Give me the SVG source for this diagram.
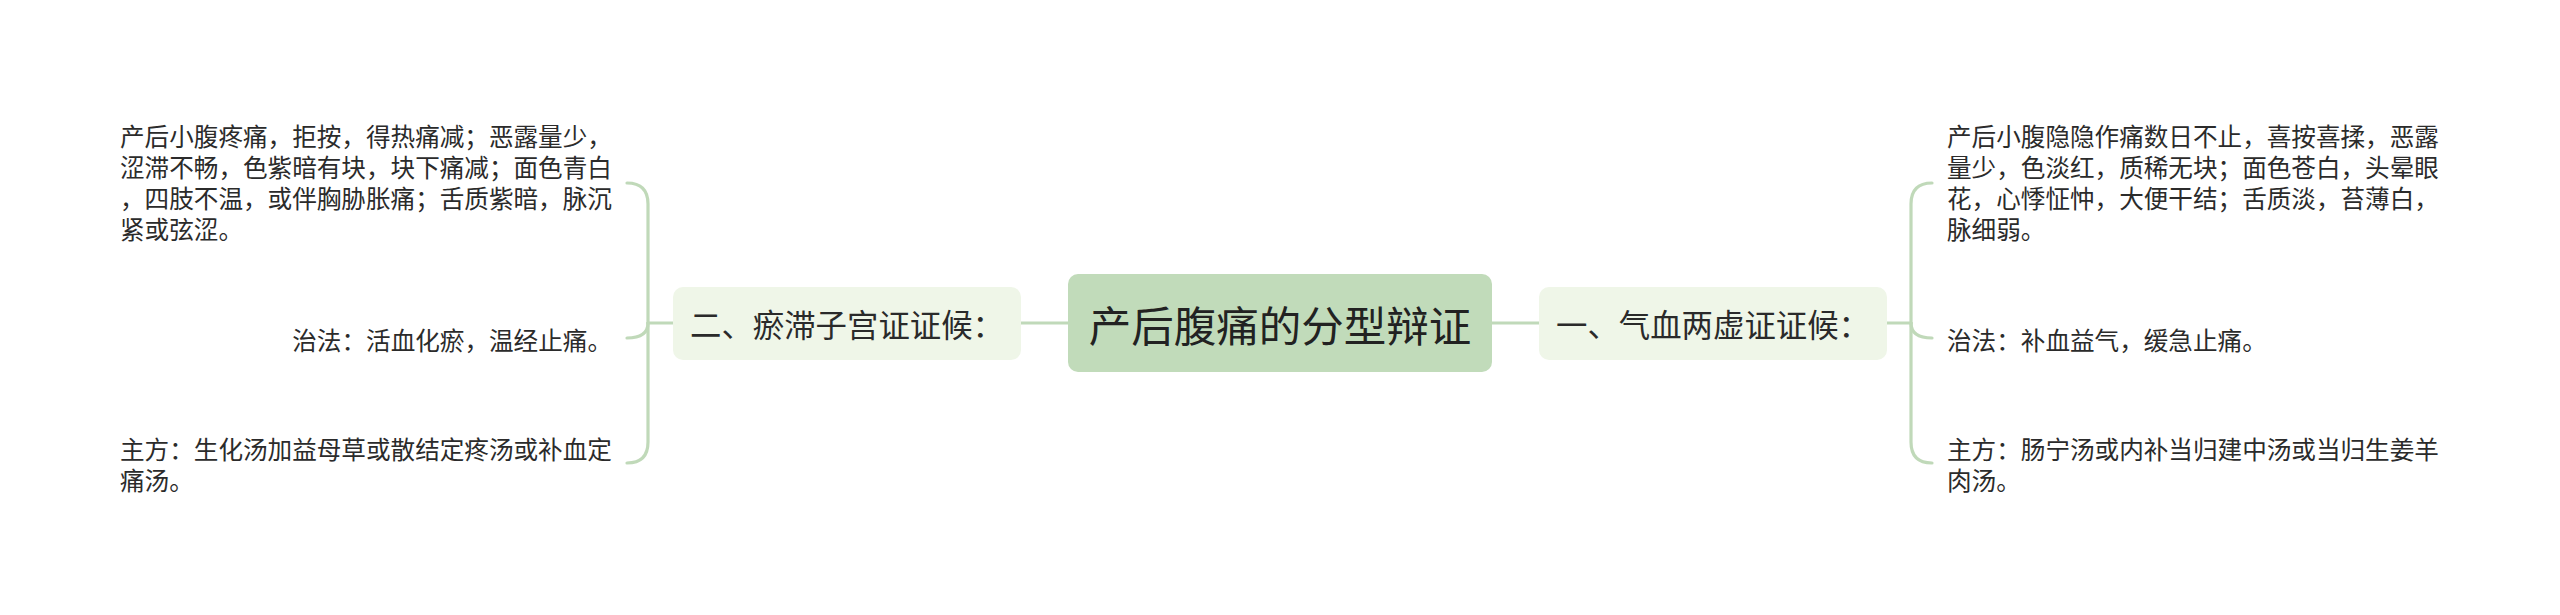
<svg xmlns="http://www.w3.org/2000/svg" width="2560" height="615" viewBox="0 0 2560 615">
<style>
  text { font-family: "Noto Sans CJK SC", "Noto Sans", sans-serif; dominant-baseline: central; }
  .root { fill: #c1dbba; }
  .main { fill: #eff6e8; }
  .rootT { font-size: 42.5px; fill: #222222; text-anchor: middle; }
  .mainT { font-size: 31.4px; fill: #2a2a2a; text-anchor: middle; }
  .leaf { font-size: 24.6px; fill: #2b2b2b; }
  .end { text-anchor: end; }
  .conn path { fill: none; stroke: #c0d9b9; stroke-width: 3.2; stroke-linecap: round; }
</style>
<rect width="2560" height="615" fill="#ffffff"/>
<g class="conn" id="connectors">
  <path d="M1021,323 L1068,323"/>
  <path d="M1492,323 L1539,323"/>
  <path d="M673,323 L648,323"/>
  <path d="M648,323 L648,204 Q648,183 627,183"/>
  <path d="M648,323 C648,333 641,338 627,338"/>
  <path d="M648,323 L648,442 Q648,463 627,463"/>
  <path d="M1887,323 L1911,323"/>
  <path d="M1911,323 L1911,204 Q1911,183 1932,183"/>
  <path d="M1911,323 C1911,333 1918,338 1932,338"/>
  <path d="M1911,323 L1911,442 Q1911,463 1932,463"/>
</g>
<g id="root">
  <rect class="root" x="1068" y="274" width="424" height="98" rx="10"/>
  <text class="rootT" x="1280" y="323">产后腹痛的分型辩证</text>
</g>
<g id="branch-left">
  <rect class="main" x="673" y="287" width="348" height="73" rx="10"/>
  <text class="mainT" x="847" y="323">二、瘀滞子宫证证候：</text>
</g>
<g id="branch-right">
  <rect class="main" x="1539" y="287" width="348" height="73" rx="10"/>
  <text class="mainT" x="1713" y="323">一、气血两虚证证候：</text>
</g>
<g id="left-leaf-1">
  <text class="leaf" x="120" y="135">产后小腹疼痛，拒按，得热痛减；恶露量少，</text>
  <text class="leaf" x="120" y="166">涩滞不畅，色紫暗有块，块下痛减；面色青白</text>
  <text class="leaf" x="120" y="197">，四肢不温，或伴胸胁胀痛；舌质紫暗，脉沉</text>
  <text class="leaf" x="120" y="228">紧或弦涩。</text>
</g>
<g id="left-leaf-2">
  <text class="leaf end" x="612" y="339">治法：活血化瘀，温经止痛。</text>
</g>
<g id="left-leaf-3">
  <text class="leaf" x="120" y="448">主方：生化汤加益母草或散结定疼汤或补血定</text>
  <text class="leaf" x="120" y="479">痛汤。</text>
</g>
<g id="right-leaf-1">
  <text class="leaf" x="1947" y="135">产后小腹隐隐作痛数日不止，喜按喜揉，恶露</text>
  <text class="leaf" x="1947" y="166">量少，色淡红，质稀无块；面色苍白，头晕眼</text>
  <text class="leaf" x="1947" y="197">花，心悸怔忡，大便干结；舌质淡，苔薄白，</text>
  <text class="leaf" x="1947" y="228">脉细弱。</text>
</g>
<g id="right-leaf-2">
  <text class="leaf" x="1947" y="339">治法：补血益气，缓急止痛。</text>
</g>
<g id="right-leaf-3">
  <text class="leaf" x="1947" y="448">主方：肠宁汤或内补当归建中汤或当归生姜羊</text>
  <text class="leaf" x="1947" y="479">肉汤。</text>
</g>
</svg>
